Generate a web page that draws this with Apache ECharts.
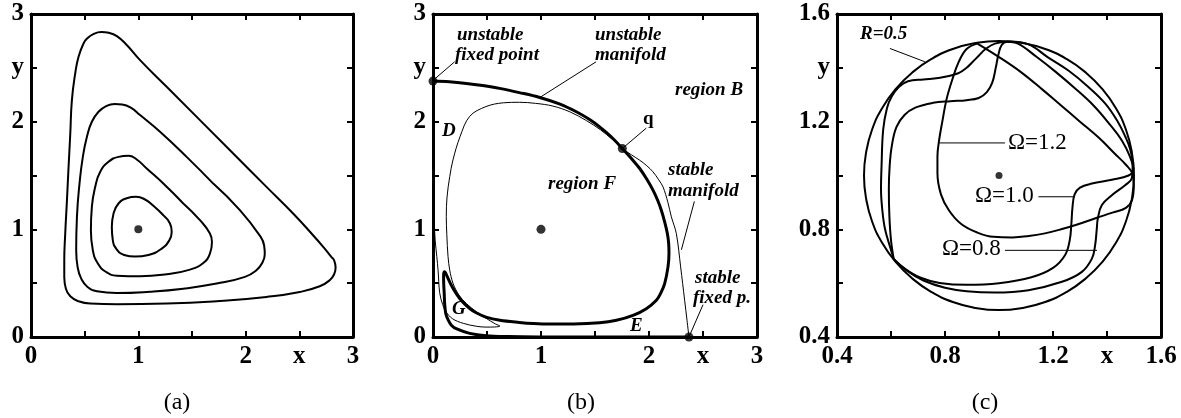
<!DOCTYPE html>
<html>
<head>
<meta charset="utf-8">
<script src="https://cdn.jsdelivr.net/npm/echarts@6/dist/echarts.min.js"></script>
<style>
  html, body { margin: 0; padding: 0; background: #fff; }
  #chart { width: 1181px; height: 418px; }
</style>
</head>
<body>
<div id="chart"></div>
<script>
// ---- tick labels (one entry per tick, '' = unlabeled tick) ----
const xTicksAB = ['0', '', '1', '', '2', 'x', '3'];
const yTicksAB = ['0', '', '1', '', '2', 'y', '3'];
const xTicksC = ['0.4', '', '0.8', '', '1.2', 'x', '1.6'];
const yTicksC = ['0.4', '', '0.8', '', '1.2', 'y', '1.6'];

// ---- panel (a): closed orbits around the centre (1,1) ----
const orbit1 = [[1.574,2.014],[1.264,2.324],[1.016,2.572],[0.892,2.712],[0.800,2.795],[0.725,2.825],[0.655,2.832],[0.585,2.815],[0.520,2.770],[0.490,2.727],[0.443,2.603],[0.412,2.448],[0.381,2.200],[0.366,1.890],[0.350,1.580],[0.335,1.271],[0.319,0.961],[0.310,0.713],[0.310,0.558],[0.325,0.449],[0.366,0.378],[0.443,0.332],[0.552,0.310],[0.800,0.304],[1.264,0.310],[1.729,0.332],[2.194,0.372],[2.504,0.418],[2.690,0.471],[2.783,0.527],[2.825,0.585],[2.838,0.645],[2.825,0.710],[2.798,0.744],[2.736,0.821],[2.628,0.945],[2.442,1.147],[2.194,1.394],[1.884,1.704],[1.574,2.014]];
const orbit2 = [[1.698,1.425],[1.450,1.673],[1.202,1.906],[1.016,2.061],[0.930,2.130],[0.850,2.160],[0.780,2.165],[0.700,2.145],[0.629,2.092],[0.567,1.999],[0.521,1.859],[0.483,1.673],[0.452,1.425],[0.428,1.116],[0.421,0.806],[0.434,0.651],[0.468,0.542],[0.527,0.465],[0.614,0.425],[0.800,0.409],[1.109,0.421],[1.419,0.449],[1.729,0.496],[1.993,0.558],[2.100,0.620],[2.155,0.690],[2.178,0.770],[2.172,0.850],[2.140,0.930],[1.946,1.178],[1.698,1.425]];
const orbit3 = [[1.419,1.240],[1.233,1.425],[1.078,1.565],[0.985,1.649],[0.908,1.683],[0.815,1.673],[0.722,1.627],[0.645,1.534],[0.598,1.394],[0.567,1.209],[0.558,0.992],[0.576,0.806],[0.623,0.682],[0.700,0.604],[0.800,0.570],[1.016,0.564],[1.264,0.583],[1.481,0.626],[1.605,0.688],[1.667,0.775],[1.686,0.883],[1.667,0.961],[1.574,1.085],[1.419,1.240]];
const orbit4 = [[1.233,1.131],[1.140,1.218],[1.063,1.277],[0.979,1.302],[0.892,1.289],[0.815,1.240],[0.769,1.147],[0.753,1.023],[0.762,0.899],[0.800,0.812],[0.868,0.762],[0.970,0.747],[1.094,0.762],[1.218,0.821],[1.289,0.899],[1.311,0.976],[1.295,1.054],[1.233,1.131]];
const centreA = [[1, 1]];

// ---- panel (b): unstable manifold (thick) and stable manifold (thin) ----
const unstableManifold = [[0,2.377],[0.15,2.37],[0.309,2.355],[0.46,2.335],[0.617,2.309],[0.80,2.27],[0.988,2.225],[1.17,2.165],[1.327,2.092],[1.45,2.02],[1.543,1.952],[1.65,1.86],[1.753,1.751],[1.835,1.66],[1.914,1.565],[1.98,1.465],[2.037,1.364],[2.08,1.27],[2.114,1.178],[2.145,1.07],[2.170,0.961],[2.182,0.87],[2.185,0.775],[2.176,0.651],[2.145,0.496],[2.110,0.41],[2.068,0.341],[1.975,0.263],[1.852,0.201],[1.698,0.155],[1.543,0.132],[1.30,0.121],[1.08,0.12],[0.93,0.125],[0.80,0.135],[0.62,0.155],[0.49,0.185],[0.40,0.225],[0.34,0.265],[0.27,0.33],[0.217,0.40],[0.165,0.49],[0.13,0.565],[0.108,0.607],[0.098,0.57],[0.099,0.50],[0.104,0.40],[0.108,0.31],[0.118,0.22],[0.14,0.16],[0.17,0.11],[0.22,0.075],[0.34,0.034],[0.49,0.012],[0.70,0.004],[1.00,0.001],[1.60,0],[2.37,0]];
const stableManifold = [[0,2.377],[0.002,1.60],[0.008,1.15],[0.02,0.90],[0.035,0.75],[0.047,0.62],[0.062,0.41],[0.09,0.30],[0.12,0.235],[0.18,0.17],[0.28,0.127],[0.40,0.10],[0.49,0.092],[0.57,0.093],[0.62,0.102],[0.58,0.12],[0.49,0.175],[0.40,0.235],[0.31,0.31],[0.24,0.39],[0.185,0.50],[0.155,0.62],[0.139,0.75],[0.128,0.95],[0.123,1.12],[0.13,1.30],[0.155,1.49],[0.185,1.645],[0.25,1.86],[0.34,2.05],[0.49,2.14],[0.65,2.175],[0.80,2.18],[0.95,2.17],[1.11,2.145],[1.27,2.09],[1.42,2.01],[1.55,1.925],[1.66,1.835],[1.753,1.751],[1.84,1.69],[1.914,1.642],[1.98,1.59],[2.037,1.534],[2.09,1.46],[2.13,1.394],[2.175,1.25],[2.207,1.116],[2.253,0.961],[2.293,0.651],[2.33,0.341],[2.352,0.155],[2.37,0]];
const fixedPointsB = [[0,2.377],[2.37,0],[1.753,1.751],[1,1]];

// leader lines for the panel (b) annotations
const leadUnstableFP = [[0.02,2.40],[0.20,2.556]];
const leadUnstableMf = [[0.99,2.225],[1.51,2.556]];
const leadQ = [[1.753,1.751],[1.975,1.94]];
const leadStableMf = [[2.30,0.81],[2.42,1.26]];
const leadStableFP = [[2.37,0],[2.50,0.30]];

// ---- panel (c): R=0.5 circle and three trajectories ----
const circleR05 = [[1.5,1.0],[1.492,1.087],[1.470,1.171],[1.433,1.25],[1.383,1.321],[1.321,1.383],[1.25,1.433],[1.171,1.470],[1.087,1.492],[1.0,1.5],[0.913,1.492],[0.829,1.470],[0.75,1.433],[0.679,1.383],[0.617,1.321],[0.567,1.25],[0.530,1.171],[0.508,1.087],[0.5,1.0],[0.508,0.913],[0.530,0.829],[0.567,0.75],[0.617,0.679],[0.679,0.617],[0.75,0.567],[0.829,0.530],[0.913,0.508],[1.0,0.5],[1.087,0.508],[1.171,0.530],[1.25,0.567],[1.321,0.617],[1.383,0.679],[1.433,0.75],[1.470,0.829],[1.492,0.913],[1.5,1.0],[1.492,1.087]];
const omega12 = [[0.92,1.49],[1.00,1.44],[1.08,1.385],[1.16,1.32],[1.23,1.26],[1.30,1.20],[1.37,1.14],[1.43,1.08],[1.47,1.04],[1.495,1.005],[1.499,0.96],[1.493,0.91],[1.47,0.88],[1.42,0.862],[1.36,0.842],[1.29,0.818],[1.23,0.80],[1.17,0.785],[1.11,0.775],[1.05,0.77],[0.98,0.772],[0.92,0.788],[0.86,0.82],[0.815,0.87],[0.785,0.93],[0.772,1.01],[0.772,1.07],[0.778,1.13],[0.79,1.20],[0.805,1.28],[0.825,1.35],[0.85,1.42],[0.88,1.47],[0.92,1.49]];
const omega10 = [[0.61,0.69],[0.60,0.76],[0.594,0.85],[0.592,0.95],[0.595,1.035],[0.603,1.11],[0.62,1.18],[0.65,1.225],[0.69,1.252],[0.756,1.27],[0.82,1.276],[0.88,1.28],[0.925,1.288],[0.955,1.31],[0.975,1.345],[0.988,1.40],[0.998,1.45],[1.01,1.485],[1.03,1.497],[1.07,1.49],[1.14,1.44],[1.21,1.385],[1.28,1.325],[1.35,1.26],[1.41,1.19],[1.455,1.13],[1.485,1.07],[1.498,1.02],[1.48,1.0],[1.418,0.984],[1.344,0.970],[1.30,0.955],[1.28,0.93],[1.272,0.88],[1.268,0.82],[1.262,0.76],[1.245,0.705],[1.20,0.657],[1.12,0.622],[1.00,0.60],[0.88,0.594],[0.78,0.601],[0.71,0.62],[0.65,0.655],[0.61,0.69]];
const omega08 = [[0.61,0.69],[0.598,0.73],[0.578,0.80],[0.568,0.87],[0.563,0.95],[0.565,1.035],[0.571,1.17],[0.585,1.25],[0.602,1.293],[0.63,1.33],[0.663,1.35],[0.72,1.357],[0.775,1.362],[0.849,1.38],[0.88,1.40],[0.90,1.42],[0.925,1.445],[0.948,1.468],[0.985,1.49],[1.04,1.498],[1.11,1.487],[1.18,1.44],[1.257,1.39],[1.33,1.33],[1.393,1.268],[1.44,1.20],[1.468,1.144],[1.485,1.10],[1.495,1.04],[1.492,0.99],[1.467,0.964],[1.418,0.927],[1.381,0.89],[1.366,0.84],[1.362,0.80],[1.356,0.741],[1.344,0.691],[1.307,0.642],[1.233,0.605],[1.109,0.574],[0.985,0.565],[0.88,0.57],[0.80,0.583],[0.72,0.61],[0.66,0.645],[0.61,0.69]];
const centreC = [[1, 1]];

// leader lines for the panel (c) annotations
const leadR = [[0.7255,1.4226],[0.596,1.472]];
const leadO12 = [[0.779,1.121],[1.022,1.121]];
const leadO10 = [[1.146,0.921],[1.276,0.921]];
const leadO08 = [[1.022,0.722],[1.363,0.722]];

// ---- helpers ----
const SERIF = '"Liberation Serif", "Times New Roman", serif';
const labelFont = { fontFamily: SERIF, fontWeight: 'bold', fontSize: 25, color: '#000' };

function axes(dim, gridIndex, min, max, interval, labels) {
  const base = {
    type: 'value', gridIndex, min, max, interval,
    splitLine: { show: false },
    axisLine: { show: true, onZero: false, lineStyle: { color: '#000', width: 3 } },
    axisTick: { show: true, inside: true, length: 6, lineStyle: { color: '#000', width: 2 } }
  };
  const main = Object.assign({}, base, {
    position: dim === 'x' ? 'bottom' : 'left',
    axisLabel: Object.assign({
      show: true, showMinLabel: true, showMaxLabel: true, margin: 7,
      formatter: (v, i) => labels[i]
    }, labelFont)
  });
  const mirror = Object.assign({}, base, {
    position: dim === 'x' ? 'top' : 'right',
    axisLabel: { show: false }
  });
  return [main, mirror];
}

function curve(data, panel, width, smooth) {
  return {
    type: 'line', xAxisIndex: panel * 2, yAxisIndex: panel * 2, data,
    showSymbol: false, silent: true, smooth: smooth === undefined ? 0.4 : smooth,
    lineStyle: { color: '#000', width }
  };
}
function dots(data, panel, size) {
  return {
    type: 'scatter', xAxisIndex: panel * 2, yAxisIndex: panel * 2, data,
    symbolSize: size, silent: true, itemStyle: { color: '#000' }, z: 5
  };
}
function txt(text, x, y, font, align) {
  return { type: 'text', x, y, silent: true,
    style: { text, font, fill: '#000', textAlign: align || 'left', textVerticalAlign: 'middle' } };
}

const BI = 'italic bold 19px ' + SERIF;
const B = 'bold 19px ' + SERIF;
const R23 = '23px ' + SERIF;
const R24 = '24px ' + SERIF;

const option = {
  animation: false,
  grid: [
    { left: 31, top: 14, width: 322, height: 323 },
    { left: 433, top: 14, width: 324, height: 323 },
    { left: 837, top: 14, width: 324, height: 323 }
  ],
  xAxis: [
    ...axes('x', 0, 0, 3, 0.5, xTicksAB),
    ...axes('x', 1, 0, 3, 0.5, xTicksAB),
    ...axes('x', 2, 0.4, 1.6, 0.2, xTicksC)
  ],
  yAxis: [
    ...axes('y', 0, 0, 3, 0.5, yTicksAB),
    ...axes('y', 1, 0, 3, 0.5, yTicksAB),
    ...axes('y', 2, 0.4, 1.6, 0.2, yTicksC)
  ],
  series: [
    // (a)
    curve(orbit1, 0, 2, 0.5), curve(orbit2, 0, 2, 0.5), curve(orbit3, 0, 2, 0.5), curve(orbit4, 0, 2, 0.5),
    dots(centreA, 0, 8),
    // (b)
    curve(stableManifold, 1, 1, 0.35),
    curve(unstableManifold, 1, 3, 0.35),
    dots(fixedPointsB, 1, 9),
    curve(leadUnstableFP, 1, 1, false), curve(leadUnstableMf, 1, 1, false),
    curve(leadQ, 1, 1, false), curve(leadStableMf, 1, 1, false), curve(leadStableFP, 1, 1, false),
    // (c)
    curve(circleR05, 2, 2, 0.5),
    curve(omega12, 2, 2), curve(omega10, 2, 2), curve(omega08, 2, 2),
    dots(centreC, 2, 7),
    curve(leadR, 2, 1, false), curve(leadO12, 2, 1, false),
    curve(leadO10, 2, 1, false), curve(leadO08, 2, 1, false)
  ],
  graphic: [
    // panel (b) annotations
    txt('unstable', 457, 35, BI), txt('fixed point', 455, 55, BI),
    txt('unstable', 595, 35, BI), txt('manifold', 595, 55, BI),
    txt('region B', 675, 90, BI),
    txt('q', 643, 119, B),
    txt('D', 442, 131, BI),
    txt('region F', 548, 184, BI),
    txt('stable', 668, 170, BI), txt('manifold', 668, 191, BI),
    txt('stable', 695, 278, BI), txt('fixed p.', 693, 298, BI),
    txt('G', 452, 309, BI),
    txt('E', 630, 326, BI),
    // panel (c) annotations
    txt('R=0.5', 860, 34, BI),
    txt('Ω=1.2', 1008, 143, R23),
    txt('Ω=1.0', 975, 196, R23),
    txt('Ω=0.8', 942, 249, R23),
    // captions
    txt('(a)', 177, 403, R24, 'center'),
    txt('(b)', 581, 403, R24, 'center'),
    txt('(c)', 985, 403, R24, 'center')
  ]
};

echarts.init(document.getElementById('chart'), null, { renderer: 'canvas' }).setOption(option);
</script>
</body>
</html>
